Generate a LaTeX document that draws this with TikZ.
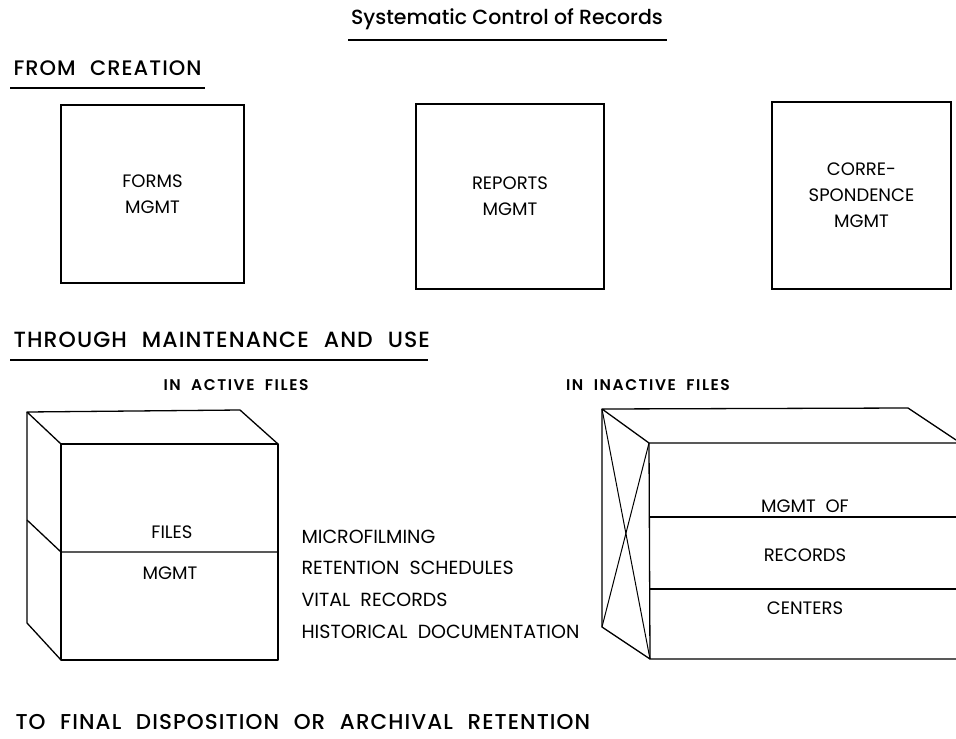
\documentclass[tikz,border=0pt]{standalone}
\usepackage{fontspec}
\setmainfont{Poppins}
\newfontfamily\tfont{Poppins Medium}
\newfontfamily\hfont[LetterSpace=5,WordSpace=2.2]{Poppins Medium}
\newfontfamily\lfont[WordSpace=2]{Poppins}
\newfontfamily\sfont[LetterSpace=10,WordSpace=2]{Poppins SemiBold}
\begin{document}
\begin{tikzpicture}[x=1pt,y=-1pt,
  head/.style={anchor=base west},
  sub/.style={anchor=base,font=\sfont\fontsize{15.5}{16}\selectfont},
  lbl/.style={font=\lfont\fontsize{18}{26}\selectfont,align=center},
  item/.style={anchor=base west,font=\lfont\fontsize{19}{20}\selectfont},
  box/.style={draw,line width=1.3pt,inner sep=0pt},
  uline/.style={line width=2.2pt},
  edge/.style={line width=1.3pt,line join=round}]
  \useasboundingbox (0,0) rectangle (956,739);
  % headings
  \node[anchor=base,font=\tfont\fontsize{20.5}{24}\selectfont] (T) at (507,24) {Systematic Control of Records};
  \draw[uline] (348,40) -- (667,40);
  \node[head,font=\hfont\fontsize{21}{24}\selectfont] (C) at (10,75) {FROM CREATION};
  \draw[uline] (10,88) -- (205,88);
  \node[head,font=\hfont\fontsize{22}{24}\selectfont] (M) at (10,347) {THROUGH MAINTENANCE AND USE};
  \draw[uline] (10,360) -- (428,360);
  \node[head,font=\hfont\fontsize{21.5}{24}\selectfont] (D) at (12,729) {TO FINAL DISPOSITION OR ARCHIVAL RETENTION};
  % creation boxes
  \node[box,lbl,minimum width=183pt,minimum height=178pt] (B1) at (152.5,194) {FORMS\\MGMT};
  \node[box,lbl,minimum width=188pt,minimum height=185pt] (B2) at (510,196.5) {REPORTS\\MGMT};
  \node[box,lbl,minimum width=179pt,minimum height=187pt] (B3) at (861.5,195.5) {CORRE-\\SPONDENCE\\MGMT};
  % active files
  \node[sub] (A) at (236,390) {IN ACTIVE FILES};
  \draw[edge] (61,444) rectangle (278,660);
  \draw[edge] (61,444) -- (27,412) -- (240,410) -- (278,444);
  \draw[edge] (27,412) -- (27,623) -- (61,660);
  \draw[edge] (27,520) -- (61,552) -- (278,552);
  \node[lbl] (F1) at (172,532) {FILES};
  \node[lbl] (F2) at (170,573) {MGMT};
  \node[item] (L1) at (298,543) {MICROFILMING};
  \node[item] (L2) at (298,574) {RETENTION SCHEDULES};
  \node[item] (L3) at (298,606) {VITAL RECORDS};
  \node[item] (L4) at (298,638) {HISTORICAL DOCUMENTATION};
  % inactive files
  \node[sub] (I) at (648,390) {IN INACTIVE FILES};
  \draw[edge] (956,443) -- (649,443) -- (650,659) -- (956,659);
  \draw[edge] (649,443) -- (602,409) -- (908,408) -- (956,440);
  \draw[edge] (602,409) -- (602,627) -- (650,659);
  \draw[line width=1pt] (602,409) -- (650,659);
  \draw[line width=1pt] (649,443) -- (602,627);
  \draw[edge] (650,517) -- (956,517);
  \draw[edge] (650,589) -- (956,589);
  \node[lbl] (R1) at (805,506) {MGMT OF};
  \node[lbl] (R2) at (805,555) {RECORDS};
  \node[lbl] (R3) at (805,608) {CENTERS};
\end{tikzpicture}
\end{document}
